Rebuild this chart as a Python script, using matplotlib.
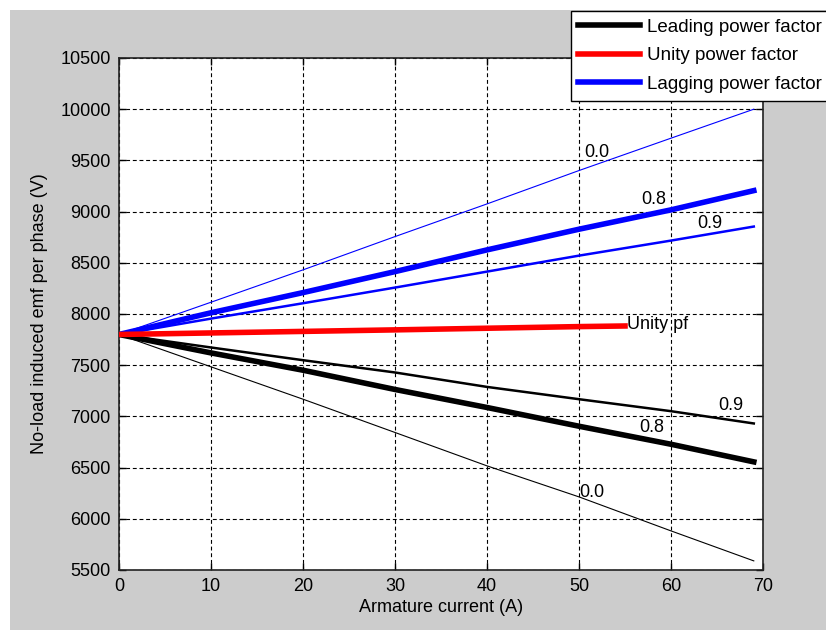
import matplotlib
matplotlib.use("Agg")
import matplotlib.pyplot as plt
from matplotlib.patches import Rectangle
from matplotlib.lines import Line2D

plt.rcParams['font.family'] = ['Liberation Sans', 'DejaVu Sans']

# Armature current sample points (A)
current = [0, 10, 20, 30, 40, 50, 60, 69]

# Lagging power factor curves (V)
lag_00 = [7800, 8115, 8431, 8756, 9075, 9401, 9717, 10000]
lag_08 = [7800, 8012, 8209, 8414, 8626, 8828, 9017, 9205]
lag_09 = [7800, 7955, 8105, 8258, 8414, 8570, 8717, 8854]

# Leading power factor curves (V)
lead_00 = [7800, 7484, 7168, 6843, 6517, 6214, 5882, 5589]
lead_08 = [7800, 7620, 7451, 7263, 7087, 6904, 6728, 6556]
lead_09 = [7800, 7673, 7549, 7429, 7288, 7168, 7051, 6931]

# Unity power factor curve
current_unity = [0, 10, 20, 30, 40, 50, 55]
unity = [7800, 7815, 7830, 7845, 7861, 7877, 7883]

x_ticks = [0, 10, 20, 30, 40, 50, 60, 70]
y_ticks = [5500, 6000, 6500, 7000, 7500, 8000, 8500, 9000, 9500, 10000, 10500]
legend_labels = ['Leading power factor', 'Unity power factor', 'Lagging power factor']

W, H = 826, 630
fig = plt.figure(figsize=(W / 100, H / 100), dpi=100, facecolor='white')
# MATLAB-like grey figure area
fig.patches.append(Rectangle((10 / W, 0), 1 - 10 / W, 1 - 10 / H, transform=fig.transFigure,
                             facecolor='#cccccc', edgecolor='none', zorder=-10))

ax = fig.add_axes([119 / W, (H - 570) / H, 644 / W, 512 / H])
ax.set_facecolor('white')

fs = 13
ax.plot(current, lag_00, color='blue', lw=0.8, zorder=3)
ax.plot(current, lag_08, color='blue', lw=4.0, zorder=3)
ax.plot(current, lag_09, color='blue', lw=1.8, zorder=3)
ax.plot(current, lead_00, color='black', lw=0.8, zorder=3)
ax.plot(current, lead_08, color='black', lw=4.0, zorder=3)
ax.plot(current, lead_09, color='black', lw=1.8, zorder=3)
ax.plot(current_unity, unity, color='red', lw=4.0, zorder=3)

ax.set_xlim(0, 70)
ax.set_ylim(5500, 10500)
ax.set_xticks(x_ticks)
ax.set_yticks(y_ticks)
ax.tick_params(direction='in', length=5, width=1, top=True, right=True,
               labelsize=fs, pad=6)
ax.grid(True, color='black', linestyle=(0, (3.5, 2.5)), linewidth=0.8)
for s in ax.spines.values():
    s.set_linewidth(1.2)
    s.set_color('#222222')

ax.set_xlabel('Armature current (A)', fontsize=fs, labelpad=3)
ax.set_ylabel('No-load induced emf per phase (V)', fontsize=fs, labelpad=9)

# curve labels
ax.text(50.6, 9578, '0.0', fontsize=fs, va='center', ha='left')
ax.text(56.8, 9120, '0.8', fontsize=fs, va='center', ha='left')
ax.text(62.9, 8880, '0.9', fontsize=fs, va='center', ha='left')
ax.text(55.2, 7895, 'Unity pf', fontsize=fs, va='center', ha='left')
ax.text(65.1, 7105, '0.9', fontsize=fs, va='center', ha='left')
ax.text(56.5, 6895, '0.8', fontsize=fs, va='center', ha='left')
ax.text(50.0, 6260, '0.0', fontsize=fs, va='center', ha='left')

handles = [Line2D([], [], color=c, lw=4.0) for c in ['black', 'red', 'blue']]
leg = fig.legend(handles, legend_labels, loc='upper right',
                 bbox_to_anchor=(830 / W, (H - 11) / H), fontsize=13.5,
                 frameon=True, fancybox=False, edgecolor='black', framealpha=1,
                 handlelength=3.3, handletextpad=0.37, labelspacing=0.6,
                 borderpad=0.42, borderaxespad=0)
leg.get_frame().set_linewidth(1.0)

fig.savefig('out.png', dpi=100, facecolor=fig.get_facecolor())
